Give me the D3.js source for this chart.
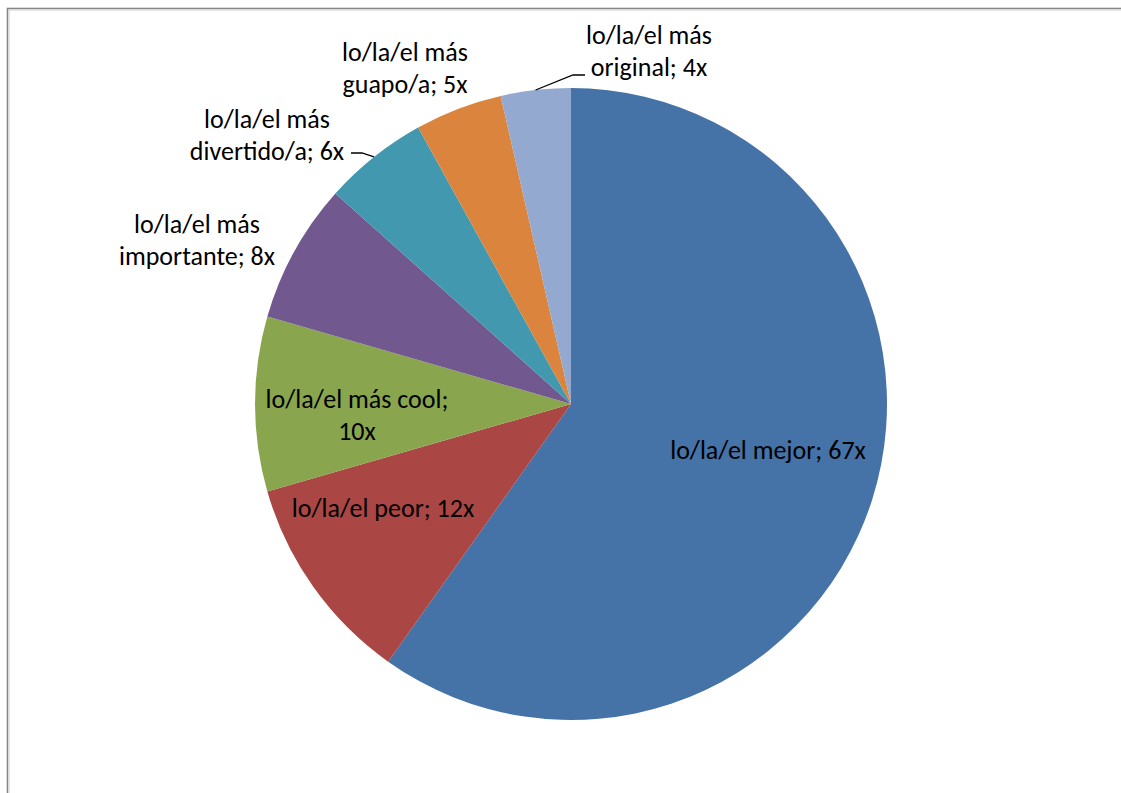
<!DOCTYPE html>
<html>
<head>
<meta charset="utf-8">
<script src="https://cdn.jsdelivr.net/npm/d3@7"></script>
<style>
  html, body { margin: 0; padding: 0; background: #ffffff; }
  svg { display: block; }
  text { font-family: Carlito, Lato, "Open Sans", sans-serif; fill: #000; }
</style>
</head>
<body>
<svg id="chart" width="1121" height="793"></svg>
<script>
// Answer categories and how many times each was given
const categories = [
  "lo/la/el mejor",
  "lo/la/el peor",
  "lo/la/el más cool",
  "lo/la/el más importante",
  "lo/la/el más divertido/a",
  "lo/la/el más guapo/a",
  "lo/la/el más original"
];
const counts = [67, 12, 10, 8, 6, 5, 4];
const colors = ["#4572A7", "#AA4643", "#89A54E", "#71588F", "#4198AF", "#DB843D", "#93A9CF"];

// Label text lines per slice
const labelLines = [
  ["lo/la/el mejor; 67x"],
  ["lo/la/el peor; 12x"],
  ["lo/la/el más cool;", "10x"],
  ["lo/la/el más", "importante; 8x"],
  ["lo/la/el más", "divertido/a; 6x"],
  ["lo/la/el más", "guapo/a; 5x"],
  ["lo/la/el más", "original; 4x"]
];

// Layout: label anchor (offset from the pie centre, first baseline) and leader lines
const cx = 571, cy = 404, radius = 316;
const labelPos = [
  [197, 55], [-188, 113], [-214, 4], [-374, -171], [-304, -276], [-166, -343], [78, -360]
];
const leaders = {
  4: [[-209, -251], [-220, -251]],
  6: [[2, -329], [14, -329]]
};
const fontSize = 26, lineGap = 32;

const svg = d3.select("#chart");

// Outer chart frame
svg.append("rect")
  .attr("x", 7.5).attr("y", 8.5)
  .attr("width", 1300).attr("height", 1000)
  .attr("fill", "none").attr("stroke", "#858585").attr("stroke-width", 1.6);
svg.append("rect")
  .attr("x", 9.5).attr("y", 10.5)
  .attr("width", 1300).attr("height", 1000)
  .attr("fill", "none").attr("stroke", "#e4e4e4").attr("stroke-width", 1);

const pie = d3.pie().sort(null).value(d => d)(counts);
const arc = d3.arc().innerRadius(0).outerRadius(radius);

const g = svg.append("g").attr("transform", `translate(${cx},${cy})`);

g.selectAll("path.slice")
  .data(pie)
  .join("path")
  .attr("class", "slice")
  .attr("d", arc)
  .attr("fill", (d, i) => colors[i]);

// Leader lines from the arc's mid-angle to the label
Object.entries(leaders).forEach(([k, pts]) => {
  const d = pie[+k];
  const mid = (d.startAngle + d.endAngle) / 2;
  const start = [radius * Math.sin(mid), -radius * Math.cos(mid)];
  g.append("path")
    .attr("d", d3.line()([start, ...pts]))
    .attr("fill", "none")
    .attr("stroke", "#000")
    .attr("stroke-width", 1.3);
});

// Slice labels
g.selectAll("text.label")
  .data(pie)
  .join("text")
  .attr("class", "label")
  .attr("text-anchor", "middle")
  .attr("font-size", fontSize)
  .each(function (d, i) {
    const t = d3.select(this);
    labelLines[i].forEach((line, j) => {
      t.append("tspan")
        .attr("x", labelPos[i][0])
        .attr("y", labelPos[i][1] + j * lineGap)
        .text(line);
    });
  });
</script>
</body>
</html>
